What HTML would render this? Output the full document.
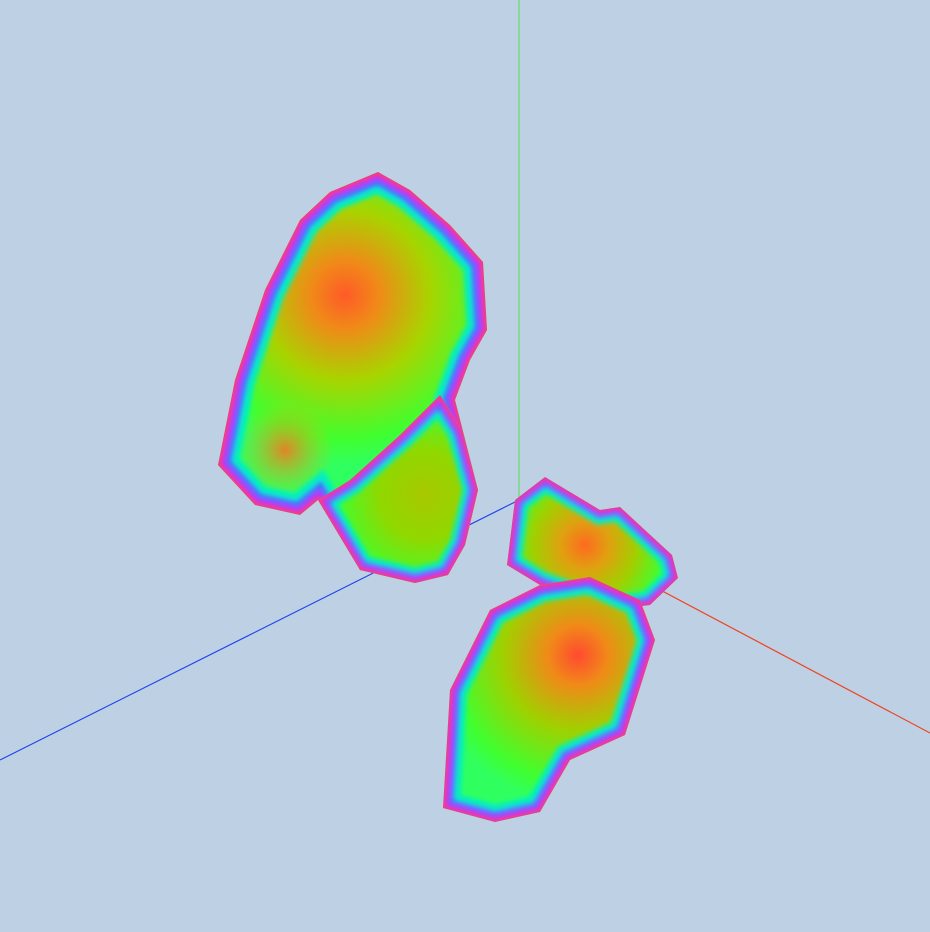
<!DOCTYPE html>
<html>
<head>
<meta charset="utf-8">
<style>
html,body{margin:0;padding:0;background:#bed0e4;}
svg{display:block;}
</style>
</head>
<body>
<svg width="930" height="932" viewBox="0 0 930 932" xmlns="http://www.w3.org/2000/svg">
<defs>
<filter id="bl" x="-10%" y="-10%" width="120%" height="120%"><feGaussianBlur stdDeviation="2.5"/></filter>
<radialGradient id="g1" gradientUnits="userSpaceOnUse" cx="345" cy="295" r="170">
<stop offset="0" stop-color="#ff5a28"/><stop offset="0.2" stop-color="#f08a18"/><stop offset="0.5" stop-color="#a8d400"/><stop offset="0.85" stop-color="#40ff30"/><stop offset="1" stop-color="#30ff60"/>
</radialGradient>
<radialGradient id="g2" gradientUnits="userSpaceOnUse" cx="425" cy="495" r="90">
<stop offset="0" stop-color="#a8c800"/><stop offset="0.5" stop-color="#90d800"/><stop offset="1" stop-color="#40ff30"/>
</radialGradient>
<radialGradient id="g3" gradientUnits="userSpaceOnUse" cx="585" cy="545" r="80">
<stop offset="0" stop-color="#ff6a20"/><stop offset="0.3" stop-color="#e0a010"/><stop offset="0.65" stop-color="#a0d000"/><stop offset="1" stop-color="#40ff30"/>
</radialGradient>
<radialGradient id="g4" gradientUnits="userSpaceOnUse" cx="578" cy="655" r="150">
<stop offset="0" stop-color="#ff4a30"/><stop offset="0.2" stop-color="#f08a18"/><stop offset="0.5" stop-color="#a0d000"/><stop offset="0.85" stop-color="#40ff30"/><stop offset="1" stop-color="#30ff60"/>
</radialGradient>
<radialGradient id="spot" gradientUnits="userSpaceOnUse" cx="285" cy="450" r="50">
<stop offset="0" stop-color="#ff7020" stop-opacity="0.85"/><stop offset="1" stop-color="#c0d000" stop-opacity="0"/>
</radialGradient>
<polygon id="p1" points="378,172 410,190 450,225 483,262 487,330 470,360 455,400 478,490 465,545 448,575 415,583 360,570 318,500 300,515 255,505 218,465 235,380 265,290 300,220 330,192"/>
<polygon id="p2" points="440,395 462,430 478,490 465,545 448,575 415,583 360,570 318,500 350,480 400,435"/>
<polygon id="p3" points="545,477 600,510 620,507 672,555 678,578 650,605 610,610 540,585 507,565 515,500"/>
<polygon id="p4" points="590,577 640,600 655,640 625,735 570,760 540,812 495,822 443,808 450,690 490,610 540,585"/>
<clipPath id="c1"><use href="#p1"/></clipPath>
<clipPath id="c2"><use href="#p2"/></clipPath>
<clipPath id="c3"><use href="#p3"/></clipPath>
<clipPath id="c4"><use href="#p4"/></clipPath>
</defs>
<rect width="930" height="932" fill="#bed0e4"/>
<line x1="519" y1="0" x2="519" y2="505" stroke="#66dd66" stroke-width="1.2"/>
<line x1="0" y1="760" x2="519" y2="500" stroke="#2244ee" stroke-width="1.2"/>
<line x1="519" y1="515" x2="930" y2="733" stroke="#ee4422" stroke-width="1.2"/>

<g>
<use href="#p1" fill="url(#g1)"/>
<polygon points="225,410 260,395 320,405 335,460 300,500 255,500 222,465" fill="url(#spot)"/>
<g clip-path="url(#c1)" fill="none">
<g filter="url(#bl)">
<use href="#p1" stroke="#00f0c0" stroke-width="40"/>
<use href="#p1" stroke="#3070ff" stroke-width="26"/>
<use href="#p1" stroke="#b030ff" stroke-width="15"/>
<use href="#p1" stroke="#ff3c50" stroke-width="6"/>
</g></g>
</g>

<g>
<use href="#p2" fill="url(#g2)"/>
<g clip-path="url(#c2)" fill="none"><g filter="url(#bl)">
<use href="#p2" stroke="#00f0c0" stroke-width="30"/>
<use href="#p2" stroke="#3070ff" stroke-width="20"/>
<use href="#p2" stroke="#b030ff" stroke-width="12"/>
<use href="#p2" stroke="#ff3c50" stroke-width="5"/>
</g></g>
</g>

<g>
<use href="#p3" fill="url(#g3)"/>
<g clip-path="url(#c3)" fill="none"><g filter="url(#bl)">
<use href="#p3" stroke="#00f0c0" stroke-width="28"/>
<use href="#p3" stroke="#3070ff" stroke-width="18"/>
<use href="#p3" stroke="#b030ff" stroke-width="10"/>
<use href="#p3" stroke="#ff3c50" stroke-width="4"/>
</g></g>
</g>

<g>
<use href="#p4" fill="url(#g4)"/>
<g clip-path="url(#c4)" fill="none"><g filter="url(#bl)">
<use href="#p4" stroke="#00f0c0" stroke-width="34"/>
<use href="#p4" stroke="#3070ff" stroke-width="22"/>
<use href="#p4" stroke="#b030ff" stroke-width="13"/>
<use href="#p4" stroke="#ff3c50" stroke-width="5"/>
</g></g>
</g>
</svg>
</body>
</html>
